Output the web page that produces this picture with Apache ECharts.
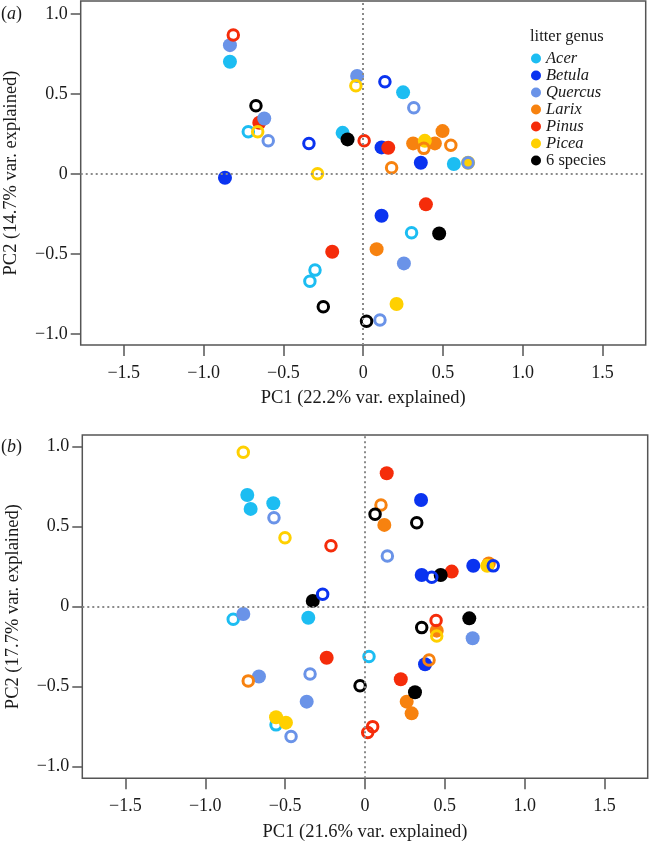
<!DOCTYPE html>
<html>
<head>
<meta charset="utf-8">
<script src="https://cdn.jsdelivr.net/npm/echarts@6/dist/echarts.min.js"></script>
<style>html,body{margin:0;padding:0;background:#fff}#c{width:651px;height:841px}</style>
</head>
<body>
<div id="c"></div>
<script>
// ---------- data: panel (a) ----------
const aAcerFilled   = [[-0.835,0.70],[0.25,0.509],[-0.129,0.256],[0.568,0.061]];
const aAcerHollow   = [[-0.72,0.263],[0.303,-0.369],[-0.302,-0.602],[-0.334,-0.671]];
const aBetulaFilled = [[-0.866,-0.025],[0.115,0.165],[0.361,0.069],[0.115,-0.262]];
const aBetulaHollow = [[-0.34,0.19],[0.136,0.575]];
const aQuercusFilled= [[-0.835,0.804],[-0.62,0.346],[-0.038,0.611],[0.255,-0.56]];
const aQuercusHollow= [[-0.595,0.206],[0.317,0.413],[0.657,0.069],[0.105,-0.914]];
const aLarixFilled  = [[0.313,0.19],[0.449,0.19],[0.497,0.267],[0.084,-0.471]];
const aLarixHollow  = [[0.38,0.159],[0.549,0.179],[0.178,0.038]];
const aPinusFilled  = [[-0.651,0.319],[0.157,0.163],[0.393,-0.191],[-0.194,-0.487]];
const aPinusHollow  = [[-0.814,0.867],[0.006,0.206]];
const aPiceaFilled  = [[0.386,0.206],[0.209,-0.814],[0.657,0.069]];
const aPiceaHollow  = [[-0.661,0.263],[-0.046,0.55],[-0.286,0.0]];
const aMixFilled    = [[-0.098,0.215],[0.476,-0.373]];
const aMixHollow    = [[-0.672,0.425],[-0.25,-0.831],[0.021,-0.921]];

// ---------- data: panel (b) ----------
const bAcerFilled   = [[-0.737,0.698],[-0.716,0.611],[-0.574,0.646],[-0.355,-0.069]];
const bAcerHollow   = [[-0.825,-0.079],[0.025,-0.312],[-0.557,-0.739]];
const bBetulaFilled = [[0.351,0.667],[0.355,0.198],[0.678,0.256],[0.376,-0.36]];
const bBetulaHollow = [[-0.265,0.077],[0.418,0.184],[0.803,0.255]];
const bQuercusFilled= [[-0.762,-0.046],[-0.664,-0.437],[-0.365,-0.594],[0.674,-0.198]];
const bQuercusHollow= [[-0.57,0.556],[0.14,0.317],[-0.344,-0.421],[-0.463,-0.812]];
const bLarixFilled  = [[0.121,0.511],[0.775,0.27],[0.449,-0.15],[0.261,-0.594],[0.292,-0.667]];
const bLarixHollow  = [[0.1,0.636],[-0.731,-0.464],[0.401,-0.333]];
const bPinusFilled  = [[0.136,0.834],[0.543,0.219],[-0.24,-0.319],[0.224,-0.454]];
const bPinusHollow  = [[-0.213,0.381],[0.445,-0.087],[0.048,-0.75],[0.017,-0.787]];
const bPiceaFilled  = [[0.765,0.255],[-0.557,-0.691],[-0.495,-0.725]];
const bPiceaHollow  = [[-0.762,0.965],[-0.501,0.431],[0.449,-0.183]];
const bMixFilled    = [[-0.327,0.036],[0.474,0.198],[0.653,-0.073],[0.313,-0.535]];
const bMixHollow    = [[0.063,0.577],[0.324,0.525],[0.355,-0.131],[-0.031,-0.494]];

// ---------- labels ----------
const genera = ['Acer','Betula','Quercus','Larix','Pinus','Picea','6 species'];
const xTicks = [-1.5,-1.0,-0.5,0,0.5,1.0,1.5];
const yTicks = [-1.0,-0.5,0,0.5,1.0];
const xTitles = ['PC1 (22.2% var. explained)','PC1 (21.6% var. explained)'];
const yTitles = ['PC2 (14.7% var. explained)','PC2 (17.7% var. explained)'];
const panelLabels = ['a','b'];

const colors = {
  'Acer':'#1cbdf2','Betula':'#0a33f0','Quercus':'#6a93e8','Larix':'#f7820f',
  'Pinus':'#f52c0a','Picea':'#ffd000','6 species':'#000000'
};
const FONT = '"Liberation Serif","Times New Roman",serif';

function fmt(v){
  if (Math.abs(v) < 1e-9) return '0';
  const s = Math.abs(v).toFixed(1);
  return (v < 0 ? '\u2212' : '') + s;
}

function mk(name, data, filled, idx){
  const c = colors[name];
  return {
    name: filled ? name : name + ' (open)',
    type:'scatter', xAxisIndex: idx, yAxisIndex: idx,
    data: data, symbol:'circle',
    symbolSize: filled ? 14 : 10.5,
    silent:true,
    itemStyle: filled ? {color:c, opacity:1} : {color:'rgba(255,255,255,0)', borderColor:c, borderWidth:3, opacity:1},
    z: 3
  };
}

function panelSeries(idx, d){
  return [
    {type:'scatter', xAxisIndex:idx, yAxisIndex:idx, data:[], silent:true, z:1,
      markLine:{silent:true, symbol:['none','none'], label:{show:false},
        lineStyle:{color:'#8a8a8a', type:[2,3], width:2},
        data:[{xAxis:0},{yAxis:0}]}},
    mk('Acer', d.AcerHollow, false, idx),
    mk('Betula', d.BetulaFilled, true, idx),
    mk('Pinus', d.PinusFilled, true, idx),
    mk('Quercus', d.QuercusFilled, true, idx),
    mk('Acer', d.AcerFilled, true, idx),
    mk('Larix', d.LarixFilled, true, idx),
    mk('Picea', d.PiceaFilled, true, idx),
    mk('6 species', d.MixFilled, true, idx),
    mk('Betula', d.BetulaHollow, false, idx),
    mk('Quercus', d.QuercusHollow, false, idx),
    mk('Larix', d.LarixHollow, false, idx),
    mk('Pinus', d.PinusHollow, false, idx),
    mk('Picea', d.PiceaHollow, false, idx),
    mk('6 species', d.MixHollow, false, idx)
  ];
}

const A = {AcerFilled:aAcerFilled,AcerHollow:aAcerHollow,BetulaFilled:aBetulaFilled,BetulaHollow:aBetulaHollow,
  QuercusFilled:aQuercusFilled,QuercusHollow:aQuercusHollow,LarixFilled:aLarixFilled,LarixHollow:aLarixHollow,
  PinusFilled:aPinusFilled,PinusHollow:aPinusHollow,PiceaFilled:aPiceaFilled,PiceaHollow:aPiceaHollow,
  MixFilled:aMixFilled,MixHollow:aMixHollow};
const B = {AcerFilled:bAcerFilled,AcerHollow:bAcerHollow,BetulaFilled:bBetulaFilled,BetulaHollow:bBetulaHollow,
  QuercusFilled:bQuercusFilled,QuercusHollow:bQuercusHollow,LarixFilled:bLarixFilled,LarixHollow:bLarixHollow,
  PinusFilled:bPinusFilled,PinusHollow:bPinusHollow,PiceaFilled:bPiceaFilled,PiceaHollow:bPiceaHollow,
  MixFilled:bMixFilled,MixHollow:bMixHollow};

function xAx(idx, min, max){
  return {type:'value', gridIndex:idx, min:min, max:max, position:'bottom',
    name:xTitles[idx], nameLocation:'middle', nameGap:44,
    nameTextStyle:{fontFamily:FONT, fontSize:18.5, color:'#1a1a1a'},
    axisLine:{show:false, onZero:false}, splitLine:{show:false},
    axisTick:{show:true, inside:false, length:11, customValues:xTicks, lineStyle:{color:'#555', width:1.5}},
    axisLabel:{customValues:xTicks, formatter:fmt, margin:19, fontFamily:FONT, fontSize:18, color:'#1a1a1a'}};
}
function yAx(idx, min, max){
  return {type:'value', gridIndex:idx, min:min, max:max, position:'left',
    name:yTitles[idx], nameLocation:'middle', nameGap:60,
    nameTextStyle:{fontFamily:FONT, fontSize:18.5, color:'#1a1a1a'},
    axisLine:{show:false, onZero:false}, splitLine:{show:false},
    axisTick:{show:true, inside:false, length:10, customValues:yTicks, lineStyle:{color:'#555', width:1.5}},
    axisLabel:{customValues:yTicks, formatter:fmt, margin:13, fontFamily:FONT, fontSize:18, color:'#1a1a1a'}};
}

const chart = echarts.init(document.getElementById('c'), null, {renderer:'canvas'});
chart.setOption({
  animation:false,
  backgroundColor:'#ffffff',
  title:[
    {text:'({i|'+panelLabels[0]+'})', left:1, top:5, padding:0, textStyle:{fontFamily:FONT, fontSize:18, fontWeight:'normal', color:'#1a1a1a', rich:{i:{fontFamily:FONT, fontSize:18, fontStyle:'italic', color:'#1a1a1a'}}}},
    {text:'({i|'+panelLabels[1]+'})', left:1, top:438, padding:0, textStyle:{fontFamily:FONT, fontSize:18, fontWeight:'normal', color:'#1a1a1a', rich:{i:{fontFamily:FONT, fontSize:18, fontStyle:'italic', color:'#1a1a1a'}}}},
    {text:'litter genus', left:530, top:28, padding:0, textStyle:{fontFamily:FONT, fontSize:16.5, fontWeight:'normal', color:'#1a1a1a'}}
  ],
  legend:{
    orient:'vertical', left:531, top:50, padding:0, icon:'circle', itemWidth:10, itemHeight:10, itemGap:0,
    data:genera, selectedMode:false,
    formatter: n => n === '6 species' ? '{n|' + n + '}' : '{i|' + n + '}',
    textStyle:{fontFamily:FONT, fontSize:16.5, color:'#1a1a1a',
      rich:{i:{fontFamily:FONT, fontSize:16.5, fontStyle:'italic', color:'#1a1a1a'},
            n:{fontFamily:FONT, fontSize:16.5, color:'#1a1a1a'}}}
  },
  grid:[
    {left:80.7, top:1, width:565, height:344, show:true, containLabel:false, outerBoundsMode:'none', borderColor:'#555', borderWidth:1.5, backgroundColor:'transparent'},
    {left:82.3, top:435, width:565.4, height:343.3, show:true, containLabel:false, outerBoundsMode:'none', borderColor:'#555', borderWidth:1.5, backgroundColor:'transparent'}
  ],
  xAxis:[xAx(0,-1.77,1.77), xAx(1,-1.77,1.77)],
  yAxis:[yAx(0,-1.07,1.08), yAx(1,-1.073,1.073)],
  series: panelSeries(0, A).concat(panelSeries(1, B))
});
</script>
</body>
</html>
